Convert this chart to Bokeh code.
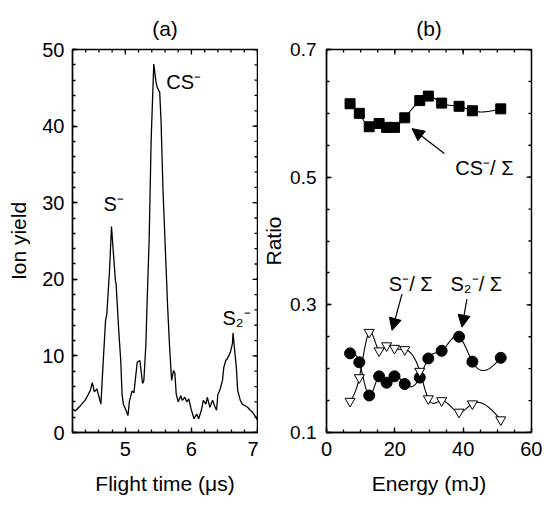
import numpy as np
from bokeh.plotting import figure
from bokeh.layouts import row
from bokeh.models import (Range1d, Arrow, NormalHead, Label, FixedTicker)
from bokeh.embed import file_html
from bokeh.resources import INLINE

# ---------------- data: panel (a) time-of-flight spectrum ----------------
time_us = [4.20, 4.24, 4.32, 4.39, 4.44, 4.47, 4.50, 4.53, 4.57, 4.59, 4.63, 4.66,
           4.70, 4.72, 4.76, 4.79, 4.82, 4.85, 4.86, 4.90, 4.93, 4.95, 4.97, 5.01,
           5.04, 5.06, 5.10, 5.13, 5.18, 5.22, 5.26, 5.28, 5.31, 5.33, 5.36, 5.39,
           5.43, 5.46, 5.48, 5.52, 5.54, 5.57, 5.61, 5.64, 5.67, 5.70, 5.73, 5.75,
           5.77, 5.80, 5.84, 5.86, 5.90, 5.93, 5.96, 6.00, 6.04, 6.08, 6.11, 6.15,
           6.18, 6.22, 6.24, 6.28, 6.32, 6.35, 6.38, 6.40, 6.43, 6.47, 6.49, 6.52,
           6.54, 6.57, 6.59, 6.62, 6.63, 6.65, 6.68, 6.70, 6.74, 6.77, 6.81, 6.85,
           6.89, 6.92, 6.96, 7.00]
ion_yield = [3.1, 2.8, 3.5, 4.2, 5.0, 5.5, 6.5, 5.3, 5.7, 5.0, 3.7, 8.5,
             14.6, 15.5, 21.1, 26.9, 23.3, 19.8, 19.4, 13.3, 9.4, 5.0, 3.7, 2.9,
             2.2, 4.0, 5.4, 5.2, 9.2, 9.4, 6.4, 6.8, 11.4, 17.2, 25.1, 38.1,
             48.1, 46.0, 45.1, 44.4, 40.7, 31.6, 22.9, 16.4, 11.1, 6.8, 8.1, 7.7,
             5.0, 4.0, 4.8, 4.2, 4.6, 4.0, 4.4, 2.9, 1.8, 2.4, 1.8, 2.9,
             4.2, 3.7, 4.6, 3.3, 4.2, 3.5, 2.9, 5.0, 5.5, 6.8, 8.5, 9.4,
             9.6, 10.1, 10.5, 11.6, 13.0, 11.1, 8.5, 5.5, 4.2, 3.7, 3.5, 3.3,
             2.9, 2.7, 2.2, 1.6]

# ---------------- data: panel (b) ratios vs energy ----------------
energy_mJ = [6.9, 9.6, 12.5, 15.4, 17.6, 19.9, 22.9, 27.3, 29.8, 33.7, 38.8, 42.7, 51.0]
ratio_cs = [0.615, 0.600, 0.579, 0.584, 0.578, 0.578, 0.593, 0.620, 0.627, 0.616, 0.611, 0.604, 0.607]
ratio_s2 = [0.224, 0.210, 0.158, 0.188, 0.178, 0.188, 0.176, 0.186, 0.216, 0.228, 0.250, 0.211, 0.217]
ratio_s = [0.149, 0.186, 0.257, 0.228, 0.236, 0.232, 0.230, 0.196, 0.153, 0.150, 0.132, 0.145, 0.120]

# tick positions
time_major = [5, 6, 7]
time_minor = [round(4.2 + 0.2 * k, 1) for k in range(15)]
yield_major = [0, 10, 20, 30, 40, 50]
yield_minor = [2 * k for k in range(26)]
energy_major = [0, 20, 40, 60]
energy_minor = [5 * k for k in range(13)]
ratio_major = [0.1, 0.3, 0.5, 0.7]
ratio_minor = [round(0.1 + 0.05 * k, 2) for k in range(13)]

FONT = "Liberation Sans"
FRAME_H = 383
TICK_W = 1.3


def natural_spline(xs, ys, num=400):
    x = np.asarray(xs, float)
    y = np.asarray(ys, float)
    n = len(x)
    h = np.diff(x)
    A = np.zeros((n, n))
    b = np.zeros(n)
    A[0, 0] = 1.0
    A[-1, -1] = 1.0
    for i in range(1, n - 1):
        A[i, i - 1] = h[i - 1]
        A[i, i] = 2 * (h[i - 1] + h[i])
        A[i, i + 1] = h[i]
        b[i] = 6 * ((y[i + 1] - y[i]) / h[i] - (y[i] - y[i - 1]) / h[i - 1])
    M = np.linalg.solve(A, b)
    xx = np.linspace(x[0], x[-1], num)
    idx = np.clip(np.searchsorted(x, xx) - 1, 0, n - 2)
    x0 = x[idx]
    x1 = x[idx + 1]
    hh = x1 - x0
    t0 = xx - x0
    t1 = x1 - xx
    yy = (M[idx] * t1 ** 3 / (6 * hh) + M[idx + 1] * t0 ** 3 / (6 * hh)
          + (y[idx] / hh - M[idx] * hh / 6) * t1 + (y[idx + 1] / hh - M[idx + 1] * hh / 6) * t0)
    return xx, yy


def style_axis(ax, tick_standoff, label_standoff, tick_font="20px"):
    ax.axis_line_color = "black"
    ax.axis_line_width = 1.3
    ax.major_tick_in = 5
    ax.major_tick_out = 0
    ax.minor_tick_in = 3
    ax.minor_tick_out = 0
    ax.major_tick_line_color = "black"
    ax.minor_tick_line_color = "black"
    ax.major_tick_line_width = TICK_W
    ax.minor_tick_line_width = TICK_W
    ax.major_label_text_font = FONT
    ax.major_label_text_font_size = tick_font
    ax.major_label_text_color = "black"
    ax.major_label_standoff = tick_standoff
    ax.axis_label_text_font = FONT
    ax.axis_label_text_font_size = "21px"
    ax.axis_label_text_font_style = "normal"
    ax.axis_label_text_color = "black"
    ax.axis_label_standoff = label_standoff


def base_fig(xr, yr, xlabel, ylabel, title, frame_w, border_left, border_right):
    p = figure(frame_width=frame_w, frame_height=FRAME_H, x_range=xr, y_range=yr,
               output_backend="svg", toolbar_location=None,
               min_border_left=border_left, min_border_right=border_right,
               min_border_top=49, min_border_bottom=73,
               x_axis_label=xlabel, y_axis_label=ylabel, title=title)
    p.grid.visible = False
    p.outline_line_color = "black"
    p.outline_line_width = 1.5
    p.background_fill_color = None
    p.border_fill_color = None
    p.title.align = "center"
    p.title.text_font = FONT
    p.title.text_font_size = "21px"
    p.title.text_font_style = "normal"
    p.title.text_color = "black"
    p.title.standoff = 20
    return p


def edge_ticks(p, xr, yr, frame_w, xmaj, xmin, ymaj, ymin):
    # inward tick marks on the top and right edges of the frame
    dy = (yr.end - yr.start) / FRAME_H
    dx = (xr.end - xr.start) / frame_w
    for vals, ln in ((xmaj, 5), (xmin, 3)):
        p.segment(x0=vals, y0=[yr.end] * len(vals), x1=vals, y1=[yr.end - ln * dy] * len(vals),
                  line_color="black", line_width=TICK_W)
    for vals, ln in ((ymaj, 5), (ymin, 3)):
        p.segment(x0=[xr.end] * len(vals), y0=vals, x1=[xr.end - ln * dx] * len(vals), y1=vals,
                  line_color="black", line_width=TICK_W)


# ---------------- panel (a) ----------------
xr1, yr1 = Range1d(4.2, 7.0), Range1d(0, 50)
p1 = base_fig(xr1, yr1, "Flight time (\u03bcs)", "Ion yield", "(a)", 185, 72, 1)
p1.below[0].ticker = FixedTicker(ticks=time_major, minor_ticks=time_minor)
p1.left[0].ticker = FixedTicker(ticks=yield_major, minor_ticks=yield_minor)
style_axis(p1.below[0], 9, 13)
style_axis(p1.left[0], 8, 9)

p1.line(time_us, ion_yield, line_color="black", line_width=1.3)

for txt, x, y in [("S\u207b", 4.67, 29.8), ("CS\u207b", 5.62, 45.7), ("S\u2082\u207b", 6.47, 14.9)]:
    p1.add_layout(Label(x=x, y=y, text=txt, text_font=FONT, text_font_size="20px",
                        text_color="black", text_baseline="alphabetic", text_align="left"))

edge_ticks(p1, xr1, yr1, 185, time_major, time_minor, yield_major, yield_minor)

# ---------------- panel (b) ----------------
xr2, yr2 = Range1d(0, 60), Range1d(0.1, 0.7)
p2 = base_fig(xr2, yr2, "Energy (mJ)", "Ratio", "(b)", 205, 68, 11)
p2.below[0].ticker = FixedTicker(ticks=energy_major, minor_ticks=energy_minor)
p2.left[0].ticker = FixedTicker(ticks=ratio_major, minor_ticks=ratio_minor)
style_axis(p2.below[0], 9, 13)
style_axis(p2.left[0], 10, 2, tick_font="19px")

for series in (ratio_cs, ratio_s2, ratio_s):
    sx, sy = natural_spline(energy_mJ, series)
    p2.line(sx, sy, line_color="black", line_width=1.1)

p2.scatter(energy_mJ, ratio_cs, marker="square", size=10, fill_color="black", line_color="black")
p2.scatter(energy_mJ, ratio_s2, marker="circle", size=11, fill_color="black", line_color="black")
p2.scatter(energy_mJ, ratio_s, marker="inverted_triangle", size=10, fill_color="white",
           line_color="black", line_width=1)

for xs, ys, xe, ye in [(34.5, 0.537, 25.05, 0.576), (22.1, 0.317, 19.2, 0.260), (41.1, 0.309, 39.65, 0.265)]:
    p2.add_layout(Arrow(end=NormalHead(size=12, fill_color="black", line_color="black"),
                        x_start=xs, y_start=ys, x_end=xe, y_end=ye,
                        line_color="black", line_width=1.2))

for txt, x, y in [("CS\u207b/ \u03a3", 37.7, 0.5136), ("S\u207b/ \u03a3", 18.25, 0.333),
                  ("S\u2082\u207b/ \u03a3", 36.3, 0.333)]:
    p2.add_layout(Label(x=x, y=y, text=txt, text_font=FONT, text_font_size="20px",
                        text_color="black", text_baseline="alphabetic", text_align="left"))

edge_ticks(p2, xr2, yr2, 205, energy_major, energy_minor, ratio_major, ratio_minor)

layout = row(p1, p2)
open("out.html", "w").write(file_html(layout, INLINE))
